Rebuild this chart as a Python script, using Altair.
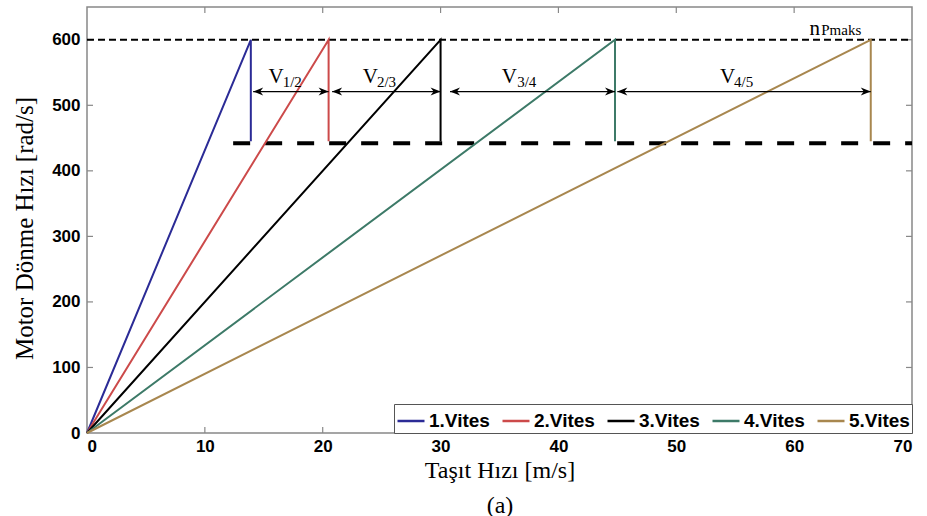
import altair as alt
import pandas as pd

gears = ["1.Vites", "2.Vites", "3.Vites", "4.Vites", "5.Vites"]
colors = ["#2b2b96", "#cc4a4a", "#000000", "#3d7a68", "#a8874f"]
v_max = [13.9, 20.5, 30.0, 44.8, 66.5]   # m/s at shift point
n_max = 600                               # rad/s
n_low = 445                               # rad/s after shift
dash_low_y = 442
dash_low_x0 = 12.4

arrow_y = 521
arrow_x0 = [14.1, 20.8, 30.8, 45.0]
arrow_x1 = [20.5, 30.0, 44.8, 66.5]
lab_main = ["V", "V", "V", "V", "n"]
lab_x = [15.4, 23.4, 35.2, 53.7, 61.3]
lab_y = [534, 534, 534, 534, 607]
lab_sub = ["1/2", "2/3", "3/4", "4/5", "Pmaks"]
sub_x = [16.6, 24.6, 36.5, 54.9, 62.3]
sub_y = [528, 528, 528, 528, 607]

x_ticks = [0, 10, 20, 30, 40, 50, 60, 70]
y_ticks = [0, 100, 200, 300, 400, 500, 600]

W, H = 825, 426

rows = []
for g, v in zip(gears, v_max):
    rows += [dict(gear=g, v=0, n=0, o=0), dict(gear=g, v=v, n=n_max, o=1), dict(gear=g, v=v, n=n_low, o=2)]
df = pd.DataFrame(rows)

xs = alt.Scale(domain=[0, 70], nice=False)
ys = alt.Scale(domain=[0, 650], nice=False)

xaxis = alt.Axis(values=x_ticks, grid=False, ticks=False, domain=False,
                 labelFont="Liberation Sans", labelFontWeight="bold", labelFontSize=17,
                 labelColor="#000", labelPadding=5,
                 title=["Taşıt Hızı [m/s]", "(a)"], titleFont="Liberation Serif",
                 titleFontSize=24, titleFontWeight="normal", titleColor="#000",
                 titleLineHeight=35, titleBaseline="middle", titleY=37)
yaxis = alt.Axis(values=y_ticks, grid=False, ticks=False, domain=False,
                 labelFont="Liberation Sans", labelFontWeight="bold", labelFontSize=17,
                 labelColor="#000", labelPadding=7,
                 title="Motor Dönme Hızı [rad/s]", titleFont="Liberation Serif",
                 titleFontSize=25, titleFontWeight="normal", titleColor="#000",
                 titleBaseline="middle", titleX=-63, titleY=221)

lines = alt.Chart(df).mark_line(strokeWidth=2).encode(
    x=alt.X("v:Q", scale=xs, axis=xaxis),
    y=alt.Y("n:Q", scale=ys, axis=yaxis),
    color=alt.Color("gear:N", scale=alt.Scale(domain=gears, range=colors),
                    legend=alt.Legend(title=None, orient="bottom-right", offset=0,
                                      direction="horizontal", columns=5,
                                      symbolType="stroke", symbolSize=729, symbolStrokeWidth=2.5,
                                      labelFont="Liberation Sans", labelFontWeight="bold",
                                      labelFontSize=19, labelColor="#000", labelOffset=3,
                                      columnPadding=7, padding=2,
                                      strokeColor="#555", fillColor="white")),
    detail="gear:N",
    order="o:Q",
)

top_df = pd.DataFrame({"x0": [0], "x1": [70], "y": [n_max]})
top_dash = alt.Chart(top_df).mark_rule(strokeDash=[7, 4], strokeWidth=2, color="#000").encode(
    x=alt.X("x0:Q", scale=xs), x2="x1:Q", y=alt.Y("y:Q", scale=ys))

low_df = pd.DataFrame({"x0": [dash_low_x0], "x1": [70], "y": [dash_low_y]})
low_dash = alt.Chart(low_df).mark_rule(strokeDash=[17, 15], strokeWidth=4, color="#000").encode(
    x=alt.X("x0:Q", scale=xs), x2="x1:Q", y=alt.Y("y:Q", scale=ys))

arr_df = pd.DataFrame({"x0": arrow_x0, "x1": arrow_x1, "y": [arrow_y] * 4})
shafts = alt.Chart(arr_df).mark_rule(strokeWidth=1.2, color="#000").encode(
    x=alt.X("x0:Q", scale=xs), x2="x1:Q", y=alt.Y("y:Q", scale=ys))
head_l = alt.Chart(arr_df).mark_point(shape="M0,0 L2,-0.8 L1.4,0 L2,0.8 Z", size=100,
                                      filled=True, color="#000", opacity=1).encode(
    x=alt.X("x0:Q", scale=xs), y=alt.Y("y:Q", scale=ys))
head_r = alt.Chart(arr_df).mark_point(shape="M0,0 L-2,-0.8 L-1.4,0 L-2,0.8 Z", size=100,
                                      filled=True, color="#000", opacity=1).encode(
    x=alt.X("x1:Q", scale=xs), y=alt.Y("y:Q", scale=ys))

lab_df = pd.DataFrame({"x": lab_x, "y": lab_y, "m": lab_main,
                       "sx": sub_x, "sy": sub_y, "s": lab_sub})
lab_m = alt.Chart(lab_df).mark_text(font="Liberation Serif", fontSize=21, align="left",
                                    baseline="alphabetic", color="#000").encode(
    x=alt.X("x:Q", scale=xs), y=alt.Y("y:Q", scale=ys), text="m:N")
lab_s = alt.Chart(lab_df).mark_text(font="Liberation Serif", fontSize=15, align="left",
                                    baseline="alphabetic", color="#000").encode(
    x=alt.X("sx:Q", scale=xs), y=alt.Y("sy:Q", scale=ys), text="s:N")

# inner tick marks (MATLAB style)
xt_df = pd.DataFrame({"x": x_ticks[1:-1]})
yt_df = pd.DataFrame({"y": y_ticks[1:]})
tick_style = dict(color="#888", strokeWidth=1.2)
xt_b = alt.Chart(xt_df).mark_rule(**tick_style).encode(
    x=alt.X("x:Q", scale=xs), y=alt.value(H), y2=alt.value(H - 6))
xt_t = alt.Chart(xt_df).mark_rule(**tick_style).encode(
    x=alt.X("x:Q", scale=xs), y=alt.value(0), y2=alt.value(6))
yt_l = alt.Chart(yt_df).mark_rule(**tick_style).encode(
    y=alt.Y("y:Q", scale=ys), x=alt.value(0), x2=alt.value(6))
yt_r = alt.Chart(yt_df).mark_rule(**tick_style).encode(
    y=alt.Y("y:Q", scale=ys), x=alt.value(W), x2=alt.value(W - 6))

chart = alt.layer(
    xt_b, xt_t, yt_l, yt_r,
    top_dash, low_dash, lines, shafts, head_l, head_r, lab_m, lab_s
).properties(
    width=W, height=H,
    autosize=alt.AutoSizeParams(type="none"),
    padding={"left": 87, "top": 7, "right": 15, "bottom": 83},
    background="white",
).configure_view(stroke="#888", strokeWidth=1.5)

chart.save("out.html", embed_options={"renderer": "svg", "actions": False})
